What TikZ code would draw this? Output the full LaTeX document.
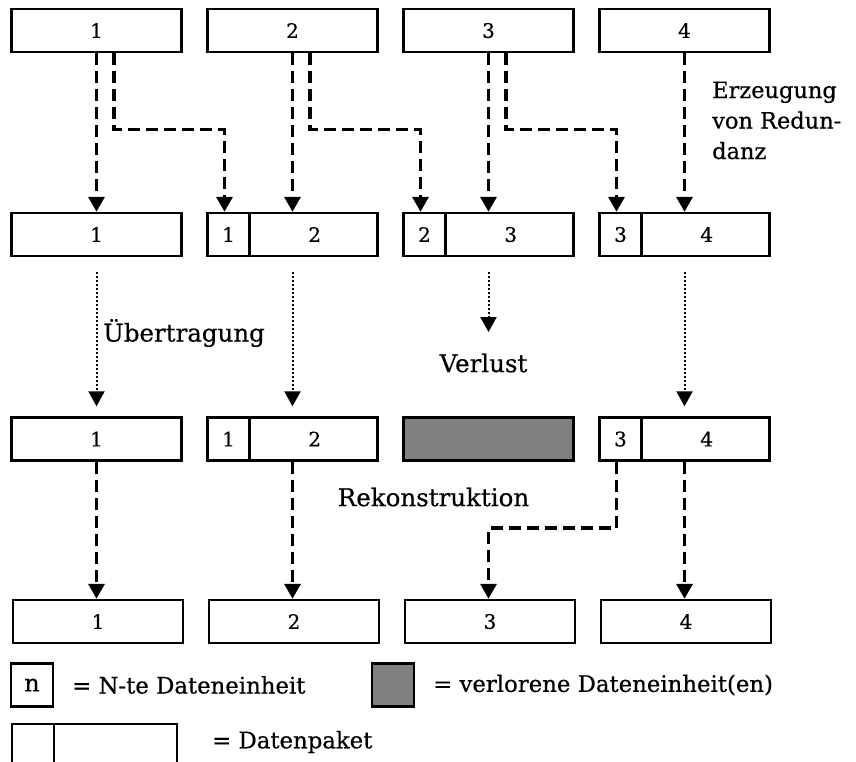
\documentclass[tikz,border=0pt]{standalone}
\usepackage{fontspec}
\setmainfont{DejaVu Serif}[FakeBold=0.5]
\usetikzlibrary{arrows.meta,calc}

\tikzset{
  pkt/.style={draw=black, line width=2.4pt, minimum width=170pt, minimum height=43pt,
              inner sep=0pt, font=\fontsize{20}{20}\selectfont},
  cell/.style={draw=black, line width=2.4pt, minimum width=42pt, minimum height=43pt,
               inner sep=0pt, font=\fontsize{20}{20}\selectfont},
  lost/.style={pkt, fill=lossgray},
  dasharrow/.style={line width=3.4pt, dash pattern=on 12pt off 6pt,
                    -{Triangle[width=16pt,length=15pt]}},
  dotarrow/.style={line width=2pt, dash pattern=on 2pt off 2pt,
                   -{Triangle[width=16pt,length=15pt]}},
  lbl/.style={font=\fontsize{24.5}{30.5}\selectfont, inner sep=0pt},
  sidelbl/.style={font=\fontsize{22.5}{30.5}\selectfont, inner sep=0pt},
  legtxt/.style={font=\fontsize{22.8}{22.8}\selectfont, inner sep=0pt, anchor=west},
  num/.style={font=\fontsize{20}{20}\selectfont, inner sep=0pt},
}
\definecolor{lossgray}{HTML}{808080}

\begin{document}
\begin{tikzpicture}[x=1pt, y=-1pt]
  \useasboundingbox (0,0) rectangle (856,761);

  % ---- row 1: original data units
  \foreach \i/\x in {1/96.5, 2/292.5, 3/488.5, 4/684.5}
    \node[pkt] (t\i) at (\x,30.5) {\i};

  % ---- row 2: packets carrying redundancy
  \node[pkt] (b1) at (96.5,234.5) {1};
  \foreach \i/\p/\x in {2/1/292.5, 3/2/488.5, 4/3/684.5} {
    \node[pkt] (b\i) at (\x,234.5) {};
    \node[cell, anchor=west] (bs\i) at (b\i.west) {\p};
    \node[num] (bn\i) at ($(bs\i.east)!0.5!(b\i.east)$) {\i};
  }

  % ---- row 3: received packets
  \node[pkt] (c1) at (96.5,439) {1};
  \node[pkt] (c2) at (292.5,439) {};
  \node[cell, anchor=west] (cs2) at (c2.west) {1};
  \node[num] (cn2) at ($(cs2.east)!0.5!(c2.east)$) {2};
  \node[lost] (c3) at (488.5,439) {};
  \node[pkt] (c4) at (684.5,439) {};
  \node[cell, anchor=west] (cs4) at (c4.west) {3};
  \node[num] (cn4) at ($(cs4.east)!0.5!(c4.east)$) {4};

  % ---- row 4: reconstructed data units
  \foreach \i/\x in {1/98, 2/294, 3/490, 4/686}
    \node[pkt] (d\i) at (\x,621.5) {\i};

  % ---- redundancy generation
  \foreach \i/\j in {1/2, 2/3, 3/4} {
    \draw[dasharrow] (t\i.south) -- (t\i.south |- b\i.north);
    \draw[dasharrow] ([xshift=17.5pt]t\i.south) -- ++(0,76)
      -| ([xshift=-4pt]bs\j.north);
  }
  \draw[dasharrow] (t4.south) -- (t4.south |- b4.north);

  % ---- transmission
  \foreach \i in {1,2,4}
    \draw[dotarrow, shorten <=15pt, shorten >=10pt] (b\i.south) -- (b\i.south |- c\i.north);
  \coordinate (loss) at (488.5,332);
  \draw[dotarrow, shorten <=15pt] (b3.south) -- (loss);

  % ---- reconstruction
  \draw[dasharrow] (c1.south) -- (c1.south |- d1.north);
  \draw[dasharrow] (c2.south) -- (c2.south |- d2.north);
  \draw[dasharrow] (c4.south) -- (c4.south |- d4.north);
  \coordinate (r3) at (488.5,528);
  \draw[dasharrow] ([xshift=-4pt]cs4.south) |- (r3) -- (r3 |- d3.north);

  % ---- labels
  \node[sidelbl, anchor=base west, align=left] (gen) at (712,159)
    {Erzeugung\\von Redun-\\danz};
  \node[lbl] (trans) at (184,333) {Übertragung};
  \node[lbl] (lossl) at (483.5,363) {Verlust};
  \node[lbl] (rec) at (433.5,497) {Rekonstruktion};

  % ---- legend
  \node[cell, font=\fontsize{24}{24}\selectfont] (kn) at (32,685) {n};
  \node[legtxt] (knt) at (72,685) {= N-te Dateneinheit};
  \node[cell, fill=lossgray] (kl) at (393,685) {};
  \node[legtxt] (klt) at (433,685) {= verlorene Dateneinheit(en)};
  \node[pkt, minimum width=165pt, anchor=north west] (kp) at (11,723) {};
  \node[cell, minimum width=42pt, anchor=north west] (kps) at (11,723) {};
  \node[legtxt] (kpt) at (212,742) {= Datenpaket};
\end{tikzpicture}
\end{document}
